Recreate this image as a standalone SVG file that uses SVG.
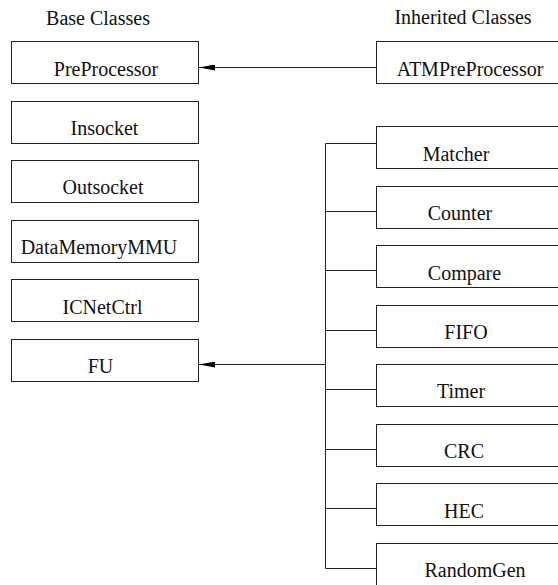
<svg xmlns="http://www.w3.org/2000/svg" width="558" height="585" viewBox="0 0 558 585">
<defs>
<style>
.box{fill:#fff;stroke:#222;stroke-width:1}
.lbl{font-family:"Liberation Serif","Times New Roman",serif;font-size:20px;fill:#111;text-anchor:middle}
.con{fill:none;stroke:#222;stroke-width:1}
</style>
<marker id="ah" markerUnits="userSpaceOnUse" markerWidth="16" markerHeight="6" refX="16" refY="3" orient="auto">
<path d="M0,0 L16,3 L0,6 z" fill="#000"/>
</marker>
</defs>
<rect width="558" height="585" fill="#fff"/>
<text class="lbl" x="98" y="25">Base Classes</text>
<text class="lbl" x="463" y="24">Inherited Classes</text>

<g id="connectors">
<line class="con" x1="376.5" y1="67.5" x2="199" y2="67.5" marker-end="url(#ah)"/>
<line class="con" x1="325.5" y1="364.5" x2="199" y2="364.5" marker-end="url(#ah)"/>
<line class="con" x1="325.5" y1="143.5" x2="325.5" y2="568.5"/>
<line class="con" x1="325.5" y1="143.5" x2="376.5" y2="143.5"/>
<line class="con" x1="325.5" y1="211.5" x2="376.5" y2="211.5"/>
<line class="con" x1="325.5" y1="270.5" x2="376.5" y2="270.5"/>
<line class="con" x1="325.5" y1="330.5" x2="376.5" y2="330.5"/>
<line class="con" x1="325.5" y1="389.5" x2="376.5" y2="389.5"/>
<line class="con" x1="325.5" y1="449.5" x2="376.5" y2="449.5"/>
<line class="con" x1="325.5" y1="508.5" x2="376.5" y2="508.5"/>
<line class="con" x1="325.5" y1="568.5" x2="376.5" y2="568.5"/>
</g>

<g id="PreProcessor"><rect class="box" x="11.5" y="41.5" width="187" height="42"/><text class="lbl" x="106" y="76">PreProcessor</text></g>
<g id="Insocket"><rect class="box" x="11.5" y="101.5" width="187" height="42"/><text class="lbl" x="104.5" y="135">Insocket</text></g>
<g id="Outsocket"><rect class="box" x="11.5" y="160.5" width="187" height="42"/><text class="lbl" x="103" y="194">Outsocket</text></g>
<g id="DataMemoryMMU"><rect class="box" x="11.5" y="220.5" width="187" height="42"/><text class="lbl" x="99" y="254">DataMemoryMMU</text></g>
<g id="ICNetCtrl"><rect class="box" x="11.5" y="279.5" width="187" height="42"/><text class="lbl" x="102.5" y="314">ICNetCtrl</text></g>
<g id="FU"><rect class="box" x="11.5" y="339.5" width="187" height="42"/><text class="lbl" x="100.5" y="373">FU</text></g>

<g id="ATMPreProcessor"><rect class="box" x="376.5" y="41.5" width="187" height="42"/><text class="lbl" x="470" y="76">ATMPreProcessor</text></g>
<g id="Matcher"><rect class="box" x="376.5" y="126.5" width="187" height="42"/><text class="lbl" x="456" y="161">Matcher</text></g>
<g id="Counter"><rect class="box" x="376.5" y="186.5" width="187" height="42"/><text class="lbl" x="460" y="220">Counter</text></g>
<g id="Compare"><rect class="box" x="376.5" y="245.5" width="187" height="42"/><text class="lbl" x="464.5" y="280">Compare</text></g>
<g id="FIFO"><rect class="box" x="376.5" y="305.5" width="187" height="42"/><text class="lbl" x="466" y="339">FIFO</text></g>
<g id="Timer"><rect class="box" x="376.5" y="364.5" width="187" height="42"/><text class="lbl" x="461" y="398">Timer</text></g>
<g id="CRC"><rect class="box" x="376.5" y="424.5" width="187" height="42"/><text class="lbl" x="464" y="458">CRC</text></g>
<g id="HEC"><rect class="box" x="376.5" y="483.5" width="187" height="42"/><text class="lbl" x="464" y="518">HEC</text></g>
<g id="RandomGen"><rect class="box" x="376.5" y="543.5" width="187" height="42"/><text class="lbl" x="475" y="577">RandomGen</text></g>
</svg>
